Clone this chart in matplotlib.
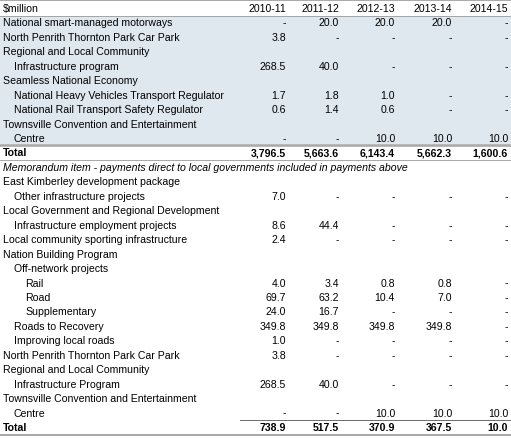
import matplotlib.pyplot as plt

years = ['2010-11', '2011-12', '2012-13', '2013-14', '2014-15']

# (label, indent level, values or None)
top_rows = [
    ('National smart-managed motorways', 0, ['-', '20.0', '20.0', '20.0', '-']),
    ('North Penrith Thornton Park Car Park', 0, ['3.8', '-', '-', '-', '-']),
    ('Regional and Local Community', 0, None),
    ('Infrastructure program', 1, ['268.5', '40.0', '-', '-', '-']),
    ('Seamless National Economy', 0, None),
    ('National Heavy Vehicles Transport Regulator', 1, ['1.7', '1.8', '1.0', '-', '-']),
    ('National Rail Transport Safety Regulator', 1, ['0.6', '1.4', '0.6', '-', '-']),
    ('Townsville Convention and Entertainment', 0, None),
    ('Centre', 1, ['-', '-', '10.0', '10.0', '10.0']),
]
top_total = ['3,796.5', '5,663.6', '6,143.4', '5,662.3', '1,600.6']

memo_title = 'Memorandum item - payments direct to local governments included in payments above'
memo_rows = [
    ('East Kimberley development package', 0, None),
    ('Other infrastructure projects', 1, ['7.0', '-', '-', '-', '-']),
    ('Local Government and Regional Development', 0, None),
    ('Infrastructure employment projects', 1, ['8.6', '44.4', '-', '-', '-']),
    ('Local community sporting infrastructure', 0, ['2.4', '-', '-', '-', '-']),
    ('Nation Building Program', 0, None),
    ('Off-network projects', 1, None),
    ('Rail', 2, ['4.0', '3.4', '0.8', '0.8', '-']),
    ('Road', 2, ['69.7', '63.2', '10.4', '7.0', '-']),
    ('Supplementary', 2, ['24.0', '16.7', '-', '-', '-']),
    ('Roads to Recovery', 1, ['349.8', '349.8', '349.8', '349.8', '-']),
    ('Improving local roads', 1, ['1.0', '-', '-', '-', '-']),
    ('North Penrith Thornton Park Car Park', 0, ['3.8', '-', '-', '-', '-']),
    ('Regional and Local Community', 0, None),
    ('Infrastructure Program', 1, ['268.5', '40.0', '-', '-', '-']),
    ('Townsville Convention and Entertainment', 0, None),
    ('Centre', 1, ['-', '-', '10.0', '10.0', '10.0']),
]
memo_total = ['738.9', '517.5', '370.9', '367.5', '10.0']

W, H = 511, 439
fig = plt.figure(figsize=(W / 100, H / 100), dpi=100)
ax = fig.add_axes([0, 0, 1, 1])
ax.set_xlim(0, W)
ax.set_ylim(H, 0)
ax.axis('off')
plt.rcParams['font.family'] = ['Liberation Sans', 'DejaVu Sans']

col_right = [286, 339, 395, 452, 508]
indent_x = [3, 14, 25]
row_h = 14.45
fs = 7.6


def y_of(i):
    return 9 + i * row_h


def put_row(i, label, level, vals, bold=False, italic=False):
    y = y_of(i)
    ax.text(indent_x[level], y, label, ha='left', va='center', fontsize=fs,
            fontweight='bold' if bold else 'normal',
            fontstyle='italic' if italic else 'normal')
    if vals:
        for x, v in zip(col_right, vals):
            ax.text(x, y, v, ha='right', va='center', fontsize=fs,
                    fontweight='bold' if bold else 'normal')


# shading of top block
ax.add_patch(plt.Rectangle((0, 17), W, 9 * row_h + 1, color='#dfe7ef', lw=0))

ax.axhline(0.5, color='#999999', lw=1.2)
ax.plot([0, W], [17, 17], color='#999999', lw=0.6)
put_row(0, '$million', 0, years)

i = 1
for lab, lvl, vals in top_rows:
    put_row(i, lab, lvl, vals)
    i += 1
ax.plot([0, W], [y_of(i) - 7.5, y_of(i) - 7.5], color='#aaaaaa', lw=1.8)
put_row(i, 'Total', 0, top_total, bold=True)
ax.plot([0, W], [y_of(i) + 7.2, y_of(i) + 7.2], color='#999999', lw=0.6)
i += 1
put_row(i, memo_title, 0, None, italic=True)
i += 1
for lab, lvl, vals in memo_rows:
    put_row(i, lab, lvl, vals)
    i += 1
ax.plot([240, W], [y_of(i) - 7.5, y_of(i) - 7.5], color='#555555', lw=0.6)
put_row(i, 'Total', 0, memo_total, bold=True)
ax.plot([0, W], [y_of(i) + 7.5, y_of(i) + 7.5], color='#999999', lw=1.2)

fig.savefig('out.png', dpi=100)
